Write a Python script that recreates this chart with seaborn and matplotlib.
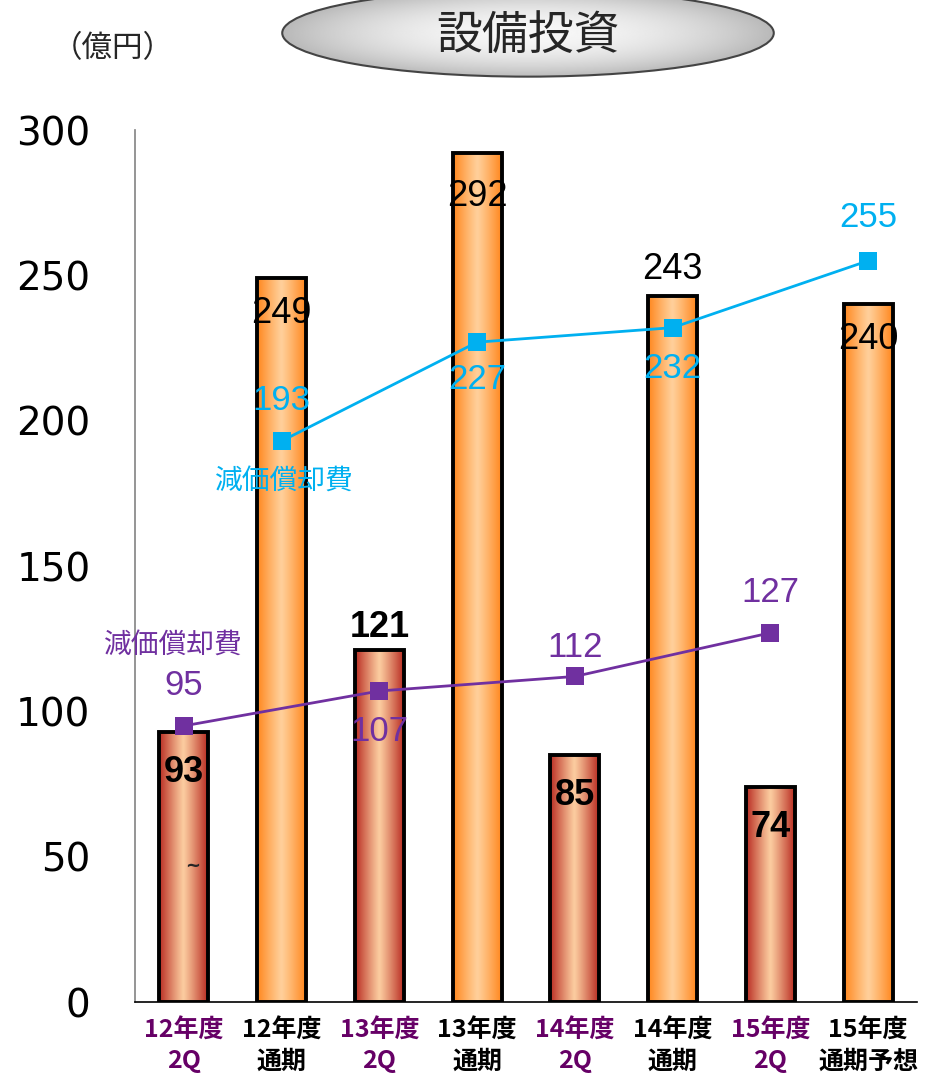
import numpy as np
import pandas as pd
import matplotlib
matplotlib.use('Agg')
import matplotlib.pyplot as plt
import seaborn as sns
from matplotlib.patches import Ellipse

# data
categories = ['12年度\n2Q', '12年度\n通期', '13年度\n2Q', '13年度\n通期',
              '14年度\n2Q', '14年度\n通期', '15年度\n2Q', '15年度\n通期予想']
capex = [93, 249, 121, 292, 85, 243, 74, 240]
kind = ['2Q', '通期', '2Q', '通期', '2Q', '通期', '2Q', '通期']
capex_label_off = [-14, -12, 8, -15, -14, 9, -14, -12]

dep_full_x = ['12年度\n通期', '13年度\n通期', '14年度\n通期', '15年度\n通期予想']
dep_full = [193, 227, 232, 255]
dep_full_off = [14, -13, -14, 15]

dep_half_x = ['12年度\n2Q', '13年度\n2Q', '14年度\n2Q', '15年度\n2Q']
dep_half = [95, 107, 112, 127]
dep_half_off = [14, -14, 10, 14]

sns.set_theme(style='white')
plt.rcParams['font.family'] = ['DejaVu Sans', 'Noto Sans CJK JP']
NUM = ['Liberation Sans', 'DejaVu Sans']
CJK = ['Noto Sans CJK JP', 'DejaVu Sans']

df = pd.DataFrame({'cat': categories, 'val': capex, 'kind': kind})

fig = plt.figure(figsize=(9.32, 10.78), dpi=100)
ax = fig.add_axes([135 / 932, 1 - 1002 / 1078, 782 / 932, 872 / 1078])

sns.barplot(data=df, x='cat', y='val', order=categories, width=0.5,
            color='white', ax=ax, zorder=2)

# horizontal gradient fills for the bars
def grad(edge, mid, n=64):
    t = np.linspace(-1, 1, n)
    w = np.abs(t) ** 1.1
    edge = np.array(edge) / 255
    mid = np.array(mid) / 255
    return (mid[None, :] * (1 - w[:, None]) + edge[None, :] * w[:, None])[None, :, :]

g_2q = grad((185, 45, 35), (252, 205, 160))
g_full = grad((255, 135, 30), (255, 208, 155))

for p, k in zip(ax.patches, kind):
    x0, w = p.get_x(), p.get_width()
    h = p.get_height()
    im = ax.imshow(g_2q if k == '2Q' else g_full, extent=(x0, x0 + w, 0, h),
                   aspect='auto', zorder=2, interpolation='bicubic')
    im.set_clip_path(p)
    p.set_facecolor('none')
    p.set_edgecolor('black')
    p.set_linewidth(2.8)
    p.set_zorder(3)

pos = {c: i for i, c in enumerate(categories)}

# lines
cyan = '#00B0F0'
purple = '#7030A0'
xf = [pos[c] for c in dep_full_x]
xh = [pos[c] for c in dep_half_x]
sns.lineplot(x=xf, y=dep_full, color=cyan, lw=2, marker='s', markersize=12.5,
             markeredgewidth=0, ax=ax, zorder=5)
sns.lineplot(x=xh, y=dep_half, color=purple, lw=2, marker='s', markersize=12.5,
             markeredgewidth=0, ax=ax, zorder=5)

# value labels
for i, (v, k, o) in enumerate(zip(capex, kind, capex_label_off)):
    ax.text(i, v + o, str(v), ha='center', va='center', zorder=6, family=NUM,
            fontsize=26, fontweight='bold' if k == '2Q' else 'normal', color='black')
for x, v, o in zip(xf, dep_full, dep_full_off):
    ax.text(x, v + o, str(v), ha='center', va='center', fontsize=25, color=cyan,
            family=NUM, zorder=6)
for x, v, o in zip(xh, dep_half, dep_half_off):
    ax.text(x, v + o, str(v), ha='center', va='center', fontsize=25, color=purple,
            family=NUM, zorder=6)

ax.text(1.03, 179.5, '減価償却費', ha='center', va='center', fontsize=20, color=cyan,
        family=CJK, zorder=6)
ax.text(-0.11, 123, '減価償却費', ha='center', va='center', fontsize=20, color=purple,
        family=CJK, zorder=6)
ax.text(0.09, 47, '~', ha='center', va='center', fontsize=13, fontweight='bold', zorder=6)

ax.set_xlim(-0.5, 7.5)
ax.set_ylim(0, 300)
ax.set_yticks(range(0, 301, 50))
ax.set_xticks(np.arange(-0.5, 7.6, 1), minor=False)
ax.set_xticklabels([])
ax.set_xticks(range(8), minor=True)
ax.set_xticklabels(categories, minor=True)
ax.set_xlabel('')
ax.set_ylabel('')
for lab, k in zip(ax.get_xticklabels(minor=True), kind):
    lab.set_color('#660066' if k == '2Q' else 'black')
    lab.set_family(CJK)
    lab.set_fontweight('bold')
    lab.set_fontsize(18)
    lab.set_linespacing(1.35)
ax.tick_params(axis='x', which='major', direction='in', length=8, color='#999999', width=1)
ax.tick_params(axis='x', which='minor', length=0, pad=12)
ax.tick_params(axis='y', direction='in', length=14, color='#888888', labelsize=28,
               labelcolor='black', pad=32)
for lab in ax.get_yticklabels():
    lab.set_horizontalalignment('right')

ax.spines['top'].set_visible(False)
ax.spines['right'].set_visible(False)
ax.spines['left'].set_color('#888888')
ax.spines['bottom'].set_color('black')
ax.spines['bottom'].set_linewidth(1.2)

fig.text(52 / 932, 1 - 49 / 1078, '（億円）', ha='left', va='center', fontsize=22,
         family=CJK)

# title ellipse with radial gradient
tax = fig.add_axes([281 / 932, 1 - 78 / 1078, 494 / 932, 90 / 1078])
tax.set_xlim(0, 1)
tax.set_ylim(0, 1)
tax.axis('off')
yy, xx = np.mgrid[-1:1:200j, -1:1:400j]
r = np.clip(np.sqrt(xx ** 2 + yy ** 2), 0, 1)
shade = 0.97 - 0.25 * r ** 2
ell = Ellipse((0.5, 0.5), 0.995, 0.97, facecolor='none', edgecolor='#444444', lw=1.5, zorder=3)
tax.add_patch(ell)
img = tax.imshow(shade, cmap='gray', vmin=0, vmax=1, extent=(0, 1, 0, 1), aspect='auto', zorder=1)
img.set_clip_path(ell)
tax.text(0.5, 0.47, '設備投資', ha='center', va='center', fontsize=33,
         family=CJK, zorder=4)

fig.savefig('out.png', dpi=100)
